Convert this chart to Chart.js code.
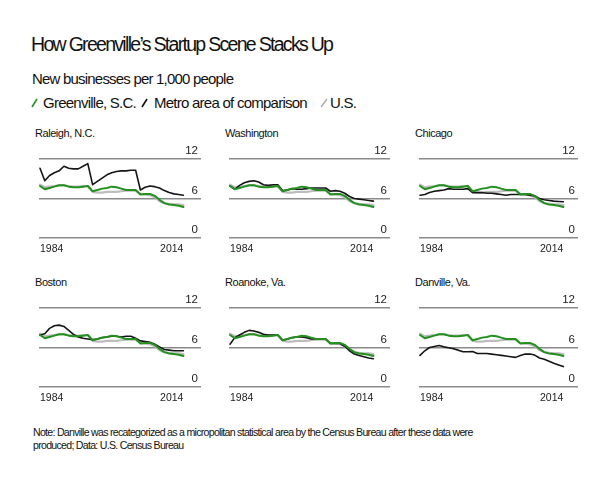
<!DOCTYPE html>
<html>
<head>
<meta charset="utf-8">
<script src="https://cdn.jsdelivr.net/npm/chart.js@4.4.1/dist/chart.umd.min.js"></script>
<style>
  html, body { margin: 0; padding: 0; background: #fff; }
  body { width: 600px; height: 483px; position: relative; overflow: hidden; font-family: "Liberation Sans", Arial, sans-serif; color: #111; }
  .abs { position: absolute; white-space: nowrap; }
  #title { left: 31px; top: 33px; font-size: 19.5px; letter-spacing: -1.7px; }
  #sub { left: 32px; top: 70px; font-size: 15px; letter-spacing: -0.8px; }
  .leg { top: 94px; font-size: 15px; letter-spacing: -0.75px; }
  .slash { position: absolute; top: 98px; }
  .ptitle { font-size: 11px; letter-spacing: -0.45px; }
  #note { left: 33px; top: 426px; font-size: 10.6px; line-height: 12.5px; letter-spacing: -0.72px; }
  canvas { position: absolute; }
</style>
</head>
<body>
<div id="title" class="abs">How Greenville’s Startup Scene Stacks Up</div>
<div id="sub" class="abs">New businesses per 1,000 people</div>
<svg class="slash" style="left:31px" width="8" height="10"><line x1="1" y1="9" x2="6" y2="1" stroke="#2a8f2a" stroke-width="1.6"/></svg>
<div class="abs leg" style="left:43px">Greenville, S.C.</div>
<svg class="slash" style="left:141px" width="8" height="10"><line x1="1" y1="9" x2="6" y2="1" stroke="#111" stroke-width="1.6"/></svg>
<div class="abs leg" style="left:154px">Metro area of comparison</div>
<svg class="slash" style="left:320px" width="9" height="10"><line x1="1" y1="9" x2="7" y2="1" stroke="#b0b0b0" stroke-width="1.6"/></svg>
<div class="abs leg" style="left:330px">U.S.</div>
<div id="note" class="abs">Note: Danville was recategorized as a micropolitan statistical area by the Census Bureau after these data were<br>produced; Data: U.S. Census Bureau</div>
<div id="panels"></div>
<script>
const years = [1984,1985,1986,1987,1988,1989,1990,1991,1992,1993,1994,1995,1996,1997,1998,1999,2000,2001,2002,2003,2004,2005,2006,2007,2008,2009,2010,2011,2012,2013,2014];
const xTickLabels = ['1984', '2014'];
const yTickValues = [0, 6, 12];

const greenville = [7.9,7.4,7.6,7.8,8.0,8.0,7.8,7.7,7.7,7.8,7.9,7.1,7.3,7.5,7.6,7.8,7.7,7.5,7.3,7.3,7.3,6.6,6.7,6.7,6.4,5.8,5.3,5.1,5.0,4.9,4.7];
const us = [8.1,7.7,7.8,7.9,8.0,8.0,7.9,7.8,7.8,7.9,7.9,7.0,6.9,6.9,7.0,7.0,7.0,7.1,7.2,7.2,7.2,6.7,6.6,6.5,6.2,5.6,5.3,5.2,5.1,5.1,5.0];

const raleigh = [10.6,8.7,9.5,9.9,10.2,10.9,10.6,10.5,10.5,10.9,11.3,8.1,8.6,9.1,9.6,9.9,10.1,10.2,10.2,10.3,10.3,7.3,7.7,7.9,7.8,7.6,7.2,6.9,6.7,6.6,6.5];
const washington = [7.9,7.4,8.0,8.4,8.6,8.7,8.5,8.1,8.0,8.1,8.1,7.2,7.3,7.5,7.4,7.4,7.5,7.6,7.6,7.6,7.6,7.1,7.2,7.1,6.8,6.3,6.0,5.9,5.8,5.7,5.6];
const chicago = [6.5,6.6,6.9,7.1,7.2,7.3,7.5,7.4,7.4,7.4,7.5,6.9,6.9,6.9,6.8,6.8,6.7,6.6,6.5,6.6,6.6,6.6,6.6,6.5,6.4,6.0,5.8,5.7,5.6,5.55,5.5];
const boston = [7.9,8.1,8.9,9.3,9.4,9.2,8.6,8.0,7.6,7.4,7.3,7.2,7.3,7.5,7.6,7.7,7.7,7.6,7.7,7.7,7.4,7.0,6.9,6.8,6.5,6.1,5.7,5.6,5.5,5.5,5.5];
const roanoke = [6.5,7.5,7.9,8.3,8.6,8.5,8.3,8.0,7.9,7.9,7.9,7.1,7.3,7.5,7.6,7.6,7.5,7.3,7.3,7.3,7.3,6.6,6.6,6.6,6.2,5.5,5.0,4.8,4.6,4.4,4.3];
const danville = [4.8,5.5,6.0,6.15,6.3,6.1,5.95,5.8,5.6,5.35,5.35,5.4,5.1,5.1,5.1,5.0,4.9,4.8,4.7,4.6,4.5,4.8,5.0,5.0,4.85,4.4,4.2,3.9,3.6,3.35,3.1];

const panelNames = ['Raleigh, N.C.', 'Washington', 'Chicago', 'Boston', 'Roanoke, Va.', 'Danville, Va.'];
const metros = [raleigh, washington, chicago, boston, roanoke, danville];

const colLeft = [35, 225, 415];
const colWidth = [166, 165, 163];
const rowTop12 = [159, 308];
const plotH = 79;
const padTop = 16;
const xAxisH = 20;

function pts(arr) { return arr.map((v, i) => ({ x: years[i], y: v })); }

const container = document.getElementById('panels');
panelNames.forEach((name, idx) => {
  const col = idx % 3, row = Math.floor(idx / 3);
  const left = colLeft[col], width = colWidth[col];
  const top = rowTop12[row] - padTop;
  const height = padTop + plotH + xAxisH;

  const t = document.createElement('div');
  t.className = 'abs ptitle';
  t.style.left = left + 'px';
  t.style.top = (rowTop12[row] - 32) + 'px';
  t.textContent = name;
  container.appendChild(t);

  const c = document.createElement('canvas');
  c.style.left = left + 'px';
  c.style.top = top + 'px';
  c.style.width = width + 'px';
  c.style.height = height + 'px';
  c.width = width; c.height = height;
  container.appendChild(c);

  const pxPerYear = 147 / 30;
  new Chart(c, {
    type: 'line',
    data: {
      datasets: [
        { label: 'Greenville, S.C.', data: pts(greenville), borderColor: '#23901f', borderWidth: 2, order: 1 },
        { label: 'Metro area of comparison', data: pts(metros[idx]), borderColor: '#151515', borderWidth: 1.6, order: 2 },
        { label: 'U.S.', data: pts(us), borderColor: '#bdbdbd', borderWidth: 2.2, order: 3 }
      ]
    },
    options: {
      responsive: false,
      animation: false,
      devicePixelRatio: 1,
      layout: { padding: { top: padTop, left: 0, right: 0, bottom: 0 } },
      elements: { point: { radius: 0 }, line: { tension: 0, borderCapStyle: 'round', borderJoinStyle: 'round' } },
      plugins: { legend: { display: false }, tooltip: { enabled: false }, title: { display: false } },
      scales: {
        x: {
          type: 'linear',
          min: 1984 - 1 / pxPerYear,
          max: 1984 + (width - 1) / pxPerYear,
          grid: { display: false, drawTicks: false },
          border: { display: false },
          afterFit: (s) => { s.height = xAxisH; },
          afterBuildTicks: (s) => { s.ticks = xTickLabels.map(l => ({ value: Number(l) })); },
          ticks: {
            align: 'inner',
            padding: 5,
            color: '#222',
            font: { family: '"Liberation Sans", Arial, sans-serif', size: 10.5 },
            maxRotation: 0,
            autoSkip: false,
            callback: (v) => String(v)
          }
        },
        y: {
          position: 'right',
          min: 0,
          max: 12,
          afterFit: (s) => { s.width = 0; },
          afterBuildTicks: (s) => { s.ticks = yTickValues.map(v => ({ value: v })); },
          grid: { color: '#8a8a8a', lineWidth: 1.5, drawTicks: false },
          border: { display: false },
          ticks: {
            mirror: true,
            padding: -3,
            labelOffset: -8,
            color: '#222',
            font: { family: '"Liberation Sans", Arial, sans-serif', size: 11.5 }
          }
        }
      }
    }
  });
});
</script>
</body>
</html>
